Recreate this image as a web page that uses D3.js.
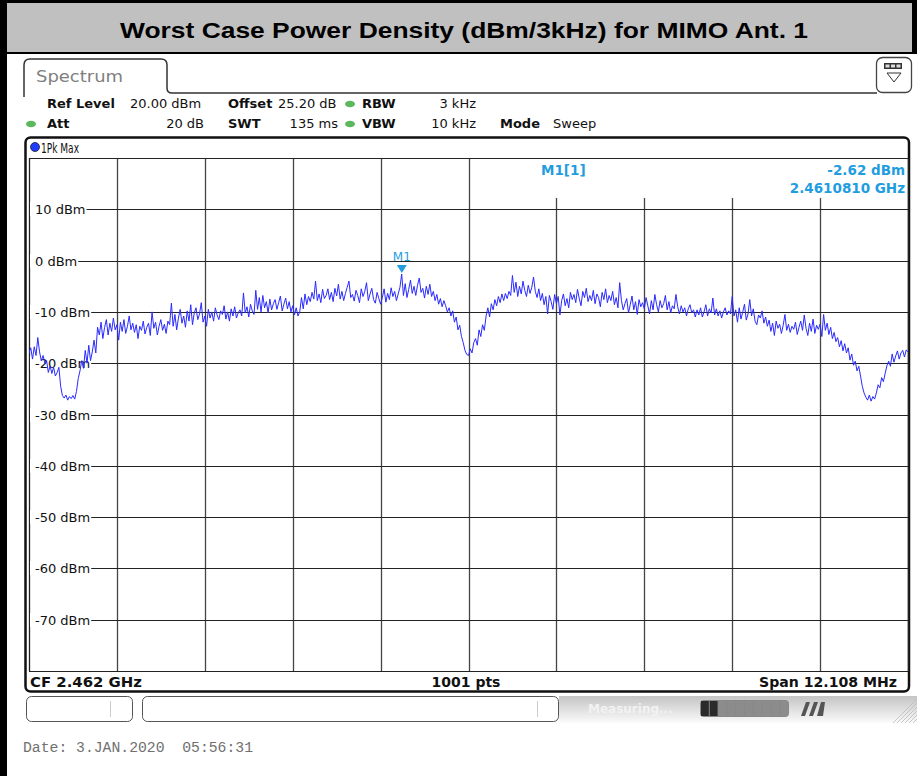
<!DOCTYPE html>
<html>
<head>
<meta charset="utf-8">
<script src="https://cdn.jsdelivr.net/npm/d3@7"></script>
<style>
  body { margin: 0; background: #fff; }
  svg { display: block; font-family: "DejaVu Sans", Verdana, sans-serif; }
</style>
</head>
<body>
<svg id="chart" width="917" height="776"></svg>
<script>
// ---- data ----
var titleText = "Worst Case Power Density (dBm/3kHz) for MIMO Ant. 1";
var centerFreqHz = 2.462e9;
var spanHz = 12.108e6;
var sweepPts = 1001;
var refLevel = "20.00 dBm", offset = "25.20 dB", rbw = "3 kHz";
var att = "20 dB", swt = "135 ms", vbw = "10 kHz", mode = "Sweep";
var traceName = "1Pk Max";
var yTicks = [10, 0, -10, -20, -30, -40, -50, -60, -70];
var yTickLabels = ["10 dBm", "0 dBm", "-10 dBm", "-20 dBm", "-30 dBm", "-40 dBm", "-50 dBm", "-60 dBm", "-70 dBm"];
var markerFreqHz = 2.4610810e9;
var markerDbm = -2.62;
var dateText = "Date: 3.JAN.2020  05:56:31";

// trace, every 2nd sweep point (501 values), dBm
var traceDbm = [
  -18, -17, -19.2, -16.8, -18.5, -15, -17.8, -19.5, -18.5, -20,
  -19.5, -21.8, -20.5, -22, -20.8, -22.5, -21.8, -20.8, -24.5, -26.3,
  -26.8, -26.2, -27.2, -26.5, -26.9, -26.3, -27, -25.5, -23, -21.5,
  -19.5, -21, -17.5, -20, -16.5, -19.5, -17.8, -15.5, -18, -13,
  -14.5, -12, -15.2, -13, -11.5, -14.5, -12.2, -13.8, -11.2, -13.5,
  -12.5, -15.5, -12, -13.8, -11.5, -14.2, -12.8, -10.8, -13.5, -12.2,
  -14, -12.5, -15.2, -12.8, -13.6, -11.8, -14.3, -13, -12.2, -14.6,
  -10, -13.2, -12, -14.5, -12.8, -11.5, -13.6, -12.4, -14.2, -11.8,
  -12.5, -8.3, -12.8, -10.5, -13.5, -11.2, -9.5, -12.2, -10.8, -13,
  -9.8, -11.8, -8.6, -12.5, -10.2, -9.2, -11.5, -10.4, -8.2, -12,
  -10.8, -12.8, -9.5, -11.2, -10, -11.8, -9.2, -10.6, -11.5, -9.8,
  -10.5, -8.8, -11.4, -10, -11.8, -9.4, -10.8, -9, -11.2, -10.2,
  -9.6, -10.8, -6.3, -10.2, -9, -11, -8.5, -9.8, -10.5, -5.8,
  -9.5, -7.2, -10, -6.8, -9.2, -8, -10.2, -7.5, -9.6, -8.4,
  -7.6, -9.5, -8.2, -6.9, -9.8, -8.5, -7.3, -9.4, -8, -10,
  -8.8, -10.6, -9.2, -10.8, -10, -7.2, -9.4, -6.5, -8.6, -7,
  -8, -6.2, -7.5, -4, -7.8, -6.5, -8.2, -5.6, -7.4, -6.8,
  -5.5, -7.6, -6.2, -8, -5.4, -6.9, -4.6, -7.5, -6, -7.8,
  -6.4, -5.2, -4, -7.2, -6.6, -7.9, -5.8, -6.8, -8.2, -5.5,
  -7, -6, -4.3, -7.8, -6.5, -5.4, -7.6, -8.3, -6.2, -7.4,
  -8.5, -7.2, -5.5, -8.1, -6.4, -7.6, -5.3, -7, -6, -7.8,
  -6.5, -5.2, -2.62, -6.8, -4.5, -7.2, -5.6, -3.8, -6.4, -5,
  -6.8, -4.8, -3.4, -6.2, -5.4, -7.3, -5, -6.6, -4.6, -7,
  -6, -7.8, -6.6, -8.5, -7.4, -9, -7.8, -8.8, -10, -9.2,
  -10.8, -9.8, -12, -11, -13.5, -12.6, -14.8, -16, -17.5, -18.3,
  -18.5, -17.2, -18, -16, -15.2, -16.5, -13.5, -14.8, -12.5, -13.6,
  -10.8, -9.2, -11, -8.4, -9.6, -7.6, -8.8, -7, -8.2, -6.5,
  -7.8, -6.4, -7.4, -6, -6.8, -2.9, -6.2, -4.2, -7, -5,
  -6.5, -4, -5.8, -7, -4.8, -6.4, -5.2, -3.2, -6, -7.2,
  -5.5, -7.8, -6.4, -8.6, -7, -10.4, -6.8, -8, -9.5, -6.6,
  -8.4, -7, -10.6, -7.8, -6.5, -8.8, -7.4, -9.2, -6.2, -7.6,
  -6.6, -8.2, -5.6, -7.4, -8.8, -6, -7.2, -5.4, -8, -6.8,
  -7.8, -5.8, -8.4, -6.5, -7.2, -9, -6.2, -7.6, -5.5, -8.2,
  -6.8, -7.8, -6, -8.6, -7.2, -9.2, -4.3, -7.8, -9.6, -8.4,
  -7.4, -10.2, -8.6, -6.9, -9.6, -8, -10.5, -7.6, -9, -8.2,
  -9.4, -7.2, -8.8, -10.4, -7.8, -9.6, -6.6, -8.6, -10, -7.8,
  -9.2, -8.4, -6.8, -9.6, -8, -10.2, -8.8, -9.4, -6.6, -9,
  -10.4, -8.8, -10, -9.2, -10.8, -9.4, -8.6, -10.2, -9.6, -11,
  -9.6, -10.6, -9.2, -11, -10, -8.6, -10.8, -9.4, -10.2, -7.3,
  -10.6, -9.4, -10.8, -9.8, -11.2, -10, -9.2, -10.6, -9.8, -10.4,
  -7, -10.8, -9.6, -12, -9.2, -11.4, -10, -8.5, -11.6, -10.4,
  -7.6, -10.8, -9.4, -11.8, -12.5, -10.6, -11.2, -9.8, -12.2, -11,
  -12.8, -11.6, -13.8, -12.2, -14.6, -11.8, -13.2, -12.4, -14.2, -12.6,
  -10.5, -13.6, -12.4, -14, -12.8, -13.4, -12, -14.4, -13, -11.8,
  -13.6, -10.6, -13.2, -14.6, -12.2, -13.8, -11.4, -14.2, -12.6, -13.4,
  -12.4, -14.8, -10.5, -13.6, -12.2, -14.4, -13, -15.2, -14, -15.8,
  -15, -16.8, -15.6, -17.6, -16.2, -18, -17, -19.4, -18.2, -20.4,
  -19.6, -21.5, -20.6, -22.5, -24.5, -25.8, -26.6, -27.2, -26.2, -27.4,
  -26.5, -27, -25.8, -24.2, -24.8, -22.8, -23.6, -22, -20.5, -19.6,
  -20.6, -18.2, -19.8, -18.6, -17.6, -19.2, -18, -17.5, -18.8, -17.4,
  -17.8
];

// ---- layout ----
var width = 917, height = 776;
var plot = {left: 29, right: 908, top: 158, bottom: 671};
var blue = '#1f9de0';
var svg = d3.select('#chart');

var fStart = centerFreqHz - spanHz / 2,
    fStop = centerFreqHz + spanHz / 2;

var xScale = d3.scaleLinear().domain([fStart, fStop]).range([plot.left, plot.right]);
var yScale = d3.scaleLinear().domain([-80, 20]).range([plot.bottom, plot.top]);

function txt(g, x, y, s, size, opts) {
  opts = opts || {};
  var t = g.append('text')
    .attr('x', x).attr('y', y)
    .attr('fill', opts.fill || '#111')
    .attr('text-anchor', opts.anchor || 'start')
    .style('font-size', size + 'px')
    .style('font-weight', opts.bold ? 'bold' : 'normal')
    .text(s);
  if (opts.family) t.style('font-family', opts.family);
  if (opts.len) t.attr('textLength', opts.len).attr('lengthAdjust', 'spacingAndGlyphs');
  return t;
}

// title bar + black page edges
svg.append('rect').attr('x', 0).attr('y', 0).attr('width', width).attr('height', 54).attr('fill', '#000');
svg.append('rect').attr('x', 7).attr('y', 3).attr('width', 905).attr('height', 49).attr('fill', '#c0c0c0');
svg.append('rect').attr('x', 0).attr('y', 0).attr('width', 7).attr('height', height).attr('fill', '#000');
txt(svg, 464, 38, titleText, 22, {bold: true, anchor: 'middle', fill: '#000', len: 688,
  family: '"Liberation Sans", Arial, sans-serif'});

// Spectrum tab
svg.append('path')
  .attr('d', 'M24,97 V65 Q24,59 30,59 H161 Q167,59 167,65 V88 Q167,93 172,93 H877')
  .attr('fill', 'none').attr('stroke', '#333').attr('stroke-width', 1.5);
txt(svg, 36, 82, 'Spectrum', 15, {fill: '#808080', len: 87});

// menu icon at top right
var icon = svg.append('g');
icon.append('rect').attr('x', 876.5).attr('y', 57.5).attr('width', 35).attr('height', 35).attr('rx', 6)
  .attr('fill', '#fff').attr('stroke', '#444').attr('stroke-width', 1.3);
icon.append('rect').attr('x', 884).attr('y', 63).attr('width', 18).attr('height', 6).attr('fill', '#333');
icon.selectAll('rect.seg').data([0, 1, 2]).enter().append('rect').attr('class', 'seg')
  .attr('x', function(d) { return 885.5 + d * 5.5; }).attr('y', 64.5).attr('width', 4).attr('height', 3)
  .attr('fill', '#ddd');
icon.append('path').attr('d', 'M887,73 H901 L894,82 Z').attr('fill', 'none').attr('stroke', '#333').attr('stroke-width', 1);

// settings header
var hdr = svg.append('g');
var r1 = 108, r2 = 128;
txt(hdr, 47, r1, 'Ref Level', 13, {bold: true});
txt(hdr, 130, r1, refLevel, 13);
txt(hdr, 228, r1, 'Offset', 13, {bold: true});
txt(hdr, 278, r1, offset, 13);
txt(hdr, 362, r1, 'RBW', 13, {bold: true});
txt(hdr, 476, r1, rbw, 13, {anchor: 'end'});
txt(hdr, 47, r2, 'Att', 13, {bold: true});
txt(hdr, 204, r2, att, 13, {anchor: 'end'});
txt(hdr, 228, r2, 'SWT', 13, {bold: true});
txt(hdr, 338, r2, swt, 13, {anchor: 'end'});
txt(hdr, 362, r2, 'VBW', 13, {bold: true});
txt(hdr, 476, r2, vbw, 13, {anchor: 'end'});
txt(hdr, 500, r2, 'Mode', 13, {bold: true});
txt(hdr, 553, r2, mode, 13);
hdr.selectAll('ellipse').data([[350, 104], [31, 124], [350, 124]]).enter().append('ellipse')
  .attr('cx', function(d) { return d[0]; }).attr('cy', function(d) { return d[1]; })
  .attr('rx', 5).attr('ry', 3.3).attr('fill', '#5cb85c');

// diagram frame
svg.append('rect').attr('x', 25.5).attr('y', 137.5).attr('width', 883.5).attr('height', 554)
  .attr('rx', 5).attr('fill', '#fff').attr('stroke', '#111').attr('stroke-width', 2.5);
svg.append('circle').attr('cx', 35).attr('cy', 147).attr('r', 4.5).attr('fill', '#1f3cff')
  .attr('stroke', '#223').attr('stroke-width', 0.8);
txt(svg, 41, 152.5, traceName, 14.5, {len: 38});

// grid
var grid = svg.append('g');
var xDiv = d3.range(0, 11).map(function(k) { return fStart + k * spanHz / 10; });
grid.selectAll('line.v').data(xDiv).enter().append('line').attr('class', 'v')
  .attr('x1', function(d) { return Math.round(xScale(d)) + 0.5; })
  .attr('x2', function(d) { return Math.round(xScale(d)) + 0.5; })
  .attr('y1', plot.top).attr('y2', plot.bottom)
  .attr('stroke', function(d, i) { return (i === 0 || i === 10) ? '#222' : '#444'; })
  .attr('stroke-width', 1.3);
grid.selectAll('line.h').data([20].concat(yTicks, [-80])).enter().append('line').attr('class', 'h')
  .attr('x1', plot.left).attr('x2', plot.right)
  .attr('y1', function(d) { return Math.round(yScale(d)) + 0.5; })
  .attr('y2', function(d) { return Math.round(yScale(d)) + 0.5; })
  .attr('stroke', '#222').attr('stroke-width', 1.2);

// y labels sit on a white patch that hides the grid line
var ylab = svg.append('g');
yTicks.forEach(function(v, i) {
  var yy = Math.round(yScale(v));
  var t = txt(ylab, 35, yy + 5, yTickLabels[i], 13);
  var w = t.node().getComputedTextLength();
  ylab.insert('rect', 'text').attr('x', plot.left + 1).attr('y', yy - 7)
    .attr('width', 35 + w - plot.left).attr('height', 14).attr('fill', '#fff');
});

// marker readout box
var ro = svg.append('g');
ro.append('rect').attr('x', 522).attr('y', plot.top + 1).attr('width', plot.right - 523).attr('height', 39).attr('fill', '#fff');
txt(ro, 541, 175, 'M1[1]', 13.5, {bold: true, fill: blue});
txt(ro, 905, 175, markerDbm.toFixed(2) + ' dBm', 13.5, {bold: true, fill: blue, anchor: 'end'});
txt(ro, 905, 193, (markerFreqHz / 1e9).toFixed(7) + ' GHz', 13.5, {bold: true, fill: blue, anchor: 'end'});

// trace
svg.append('clipPath').attr('id', 'clip').append('rect')
  .attr('x', plot.left).attr('y', plot.top).attr('width', plot.right - plot.left).attr('height', plot.bottom - plot.top);
var step = spanHz / (traceDbm.length - 1);
var line = d3.line()
  .x(function(d, i) { return xScale(fStart + i * step); })
  .y(function(d) { return yScale(d); });
svg.append('path').datum(traceDbm)
  .attr('clip-path', 'url(#clip)')
  .attr('d', line)
  .attr('fill', 'none').attr('stroke', '#2a2aff').attr('stroke-width', 1)
  .attr('stroke-linejoin', 'miter');

// marker M1
var mx = xScale(markerFreqHz), my = yScale(markerDbm);
svg.append('path').attr('d', 'M' + (mx - 5) + ',' + (my - 9) + ' H' + (mx + 5) + ' L' + mx + ',' + (my - 1) + ' Z')
  .attr('fill', blue);
txt(svg, mx, my - 13, 'M1', 12, {fill: blue, anchor: 'middle'});

// bottom info row
txt(svg, 30, 687, 'CF ' + (centerFreqHz / 1e9).toFixed(3) + ' GHz', 14, {bold: true, len: 112});
txt(svg, 466, 687, sweepPts + ' pts', 14, {bold: true, anchor: 'middle'});
txt(svg, 897, 687, 'Span ' + (spanHz / 1e6).toFixed(3) + ' MHz', 14, {bold: true, anchor: 'end', len: 138});

// status bar
var defs = svg.append('defs');
var grad = defs.append('linearGradient').attr('id', 'sbar').attr('x1', 0).attr('y1', 0).attr('x2', 0).attr('y2', 1);
grad.append('stop').attr('offset', '0%').attr('stop-color', '#c4c4c4');
grad.append('stop').attr('offset', '100%').attr('stop-color', '#fbfbfb');
var sb = svg.append('g');
sb.append('rect').attr('x', 559).attr('y', 696).attr('width', width - 559).attr('height', 27).attr('fill', 'url(#sbar)');
sb.append('rect').attr('x', 26.5).attr('y', 696.5).attr('width', 106).attr('height', 25).attr('rx', 5)
  .attr('fill', '#fff').attr('stroke', '#555');
sb.append('line').attr('x1', 110.5).attr('x2', 110.5).attr('y1', 701).attr('y2', 717).attr('stroke', '#ccc');
sb.append('rect').attr('x', 142.5).attr('y', 696.5).attr('width', 416).attr('height', 25).attr('rx', 5)
  .attr('fill', '#fff').attr('stroke', '#555');
sb.append('line').attr('x1', 537.5).attr('x2', 537.5).attr('y1', 701).attr('y2', 717).attr('stroke', '#ccc');
txt(sb, 588, 713, 'Measuring...', 12, {bold: true, fill: '#f2f2f2'});
sb.append('rect').attr('x', 700).attr('y', 700).attr('width', 89).attr('height', 17).attr('rx', 4).attr('fill', '#888');
sb.selectAll('rect.pb').data(d3.range(10)).enter().append('rect').attr('class', 'pb')
  .attr('x', function(d) { return 701 + d * 8.8; }).attr('y', 701).attr('width', 7.8).attr('height', 15)
  .attr('fill', function(d) { return d < 2 ? '#2a2a2a' : '#8c8c8c'; });
sb.append('path').attr('d', 'M801,716 L806,702 H810 L805,716 Z M809,716 L814,702 H818 L813,716 Z M817,716 L821,702 H825 L823,716 Z')
  .attr('fill', '#555');
sb.selectAll('line.hatch').data(d3.range(6)).enter().append('line').attr('class', 'hatch')
  .attr('x1', function(d) { return 893 + d * 4; }).attr('y1', 723)
  .attr('x2', function(d) { return 920 + d * 4; }).attr('y2', 696)
  .attr('stroke', '#bbb').attr('stroke-width', 0.8);

// date stamp
txt(svg, 23, 752, dateText, 14.5, {fill: '#707070', family: '"Liberation Mono", "Courier New", monospace', len: 230})
  .attr('xml:space', 'preserve');
</script>
</body>
</html>
